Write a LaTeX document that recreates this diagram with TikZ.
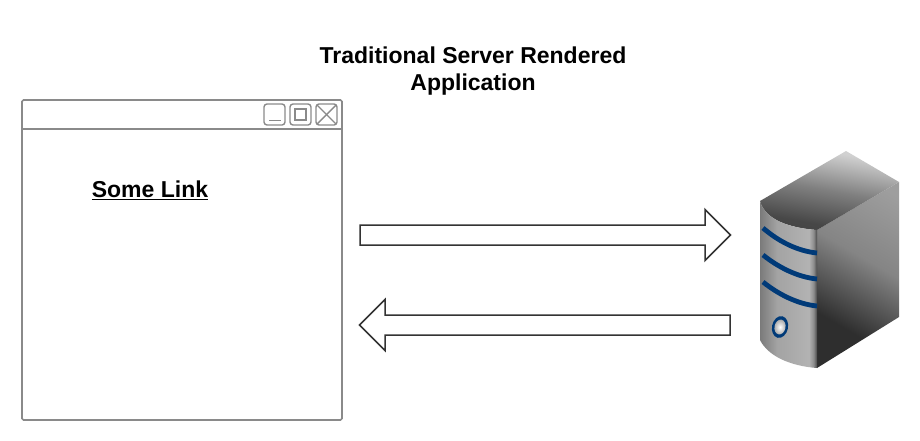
\documentclass[tikz,border=0pt]{standalone}
\usepackage{fontspec}
\setmainfont{Liberation Sans}
\usepackage{tikz}
\definecolor{stripe}{HTML}{003A78}
\definecolor{winline}{HTML}{8A8A8A}
\pgfdeclarehorizontalshading{srvfront}{100bp}{color(0bp)=(black!52); color(25bp)=(black!52); color(40bp)=(black!36); color(68bp)=(black!30); color(72bp)=(black!45); color(75bp)=(black!72); color(100bp)=(black!72)}
\pgfdeclarehorizontalshading{srvside}{100bp}{color(0bp)=(black!82); color(32bp)=(black!82); color(56bp)=(black!48); color(80bp)=(black!38); color(100bp)=(black!38)}
\pgfdeclarehorizontalshading{srvtop}{100bp}{color(0bp)=(black!78); color(30bp)=(black!72); color(50bp)=(black!50); color(72bp)=(black!18); color(100bp)=(black!18)}
\tikzstyle{heading}=[font=\bfseries\fontsize{23}{27}\selectfont,align=center,inner sep=0pt]
\tikzstyle{winbox}=[draw=winline,line width=1.6pt,rounded corners=1.5pt]
\tikzstyle{winbtn}=[draw=winline,line width=1.4pt,rounded corners=3pt]
\tikzstyle{bigarrow}=[draw=black!80,line width=1.5pt,fill=white,miter limit=10]
\tikzstyle{band}=[draw=stripe,line width=4.8pt]

\begin{document}
\begin{tikzpicture}[x=1pt,y=-1pt]
    \useasboundingbox (0,0) rectangle (920,440);

    \node[heading] (title) at (473,71.5) {Traditional Server Rendered\\Application};

    % browser window
    \draw[winbox] (22,100) rectangle (342,420);
    \draw[winline,line width=1.6pt] (22,129) -- (342,129);
    \draw[winbtn] (264,104) rectangle (285,125);
    \draw[winline,line width=1.4pt] (269,120.5) -- (281,120.5);
    \draw[winbtn] (290,104) rectangle (311,125);
    \draw[winline,line width=1.4pt] (295,109) rectangle (306,120);
    \draw[winbtn] (316,104) rectangle (337,125);
    \draw[winline,line width=1.4pt] (317,105) -- (336,124);
    \draw[winline,line width=1.4pt] (336,105) -- (317,124);
    \node[font=\bfseries\fontsize{23}{27}\selectfont,inner sep=0pt] (link) at (150,190) {\underline{Some Link}};

    % arrows
    \draw[bigarrow] (360,225) -- (705,225) -- (705,209.5) -- (730.5,235) -- (705,260.5) -- (705,245) -- (360,245) -- cycle;
    \draw[bigarrow] (730,315) -- (385,315) -- (385,299.5) -- (359.5,325) -- (385,350.5) -- (385,335) -- (730,335) -- cycle;

    % server
    \shade[shading=srvside,shading angle=60] (817,230) -- (899,182) -- (899,317) -- (817,368) -- cycle;
    \shade[shading=srvtop,shading angle=80] (760,201) -- (846,151) -- (899,182) -- (817,230) .. controls (790,228) and (765,220) .. (760,201) -- cycle;
    \shade[shading=srvfront] (760,201) .. controls (765,220) and (790,228) .. (817,230) -- (817,368) .. controls (790,366) and (768,356) .. (760,340) -- cycle;
    \draw[band] (763,228) .. controls (778,241) and (797,251) .. (817,253);
    \draw[band] (763,255) .. controls (778,267) and (797,277) .. (817,279);
    \draw[band] (763,282) .. controls (778,294) and (797,304) .. (817,306);
    \fill[stripe,rotate around={-12:(780,327)}] (780,327) ellipse (8 and 11);
    \shade[inner color=white,outer color=black!35,rotate around={-12:(780,327)}] (780,327) ellipse (5.5 and 7.5);
\end{tikzpicture}
\end{document}
